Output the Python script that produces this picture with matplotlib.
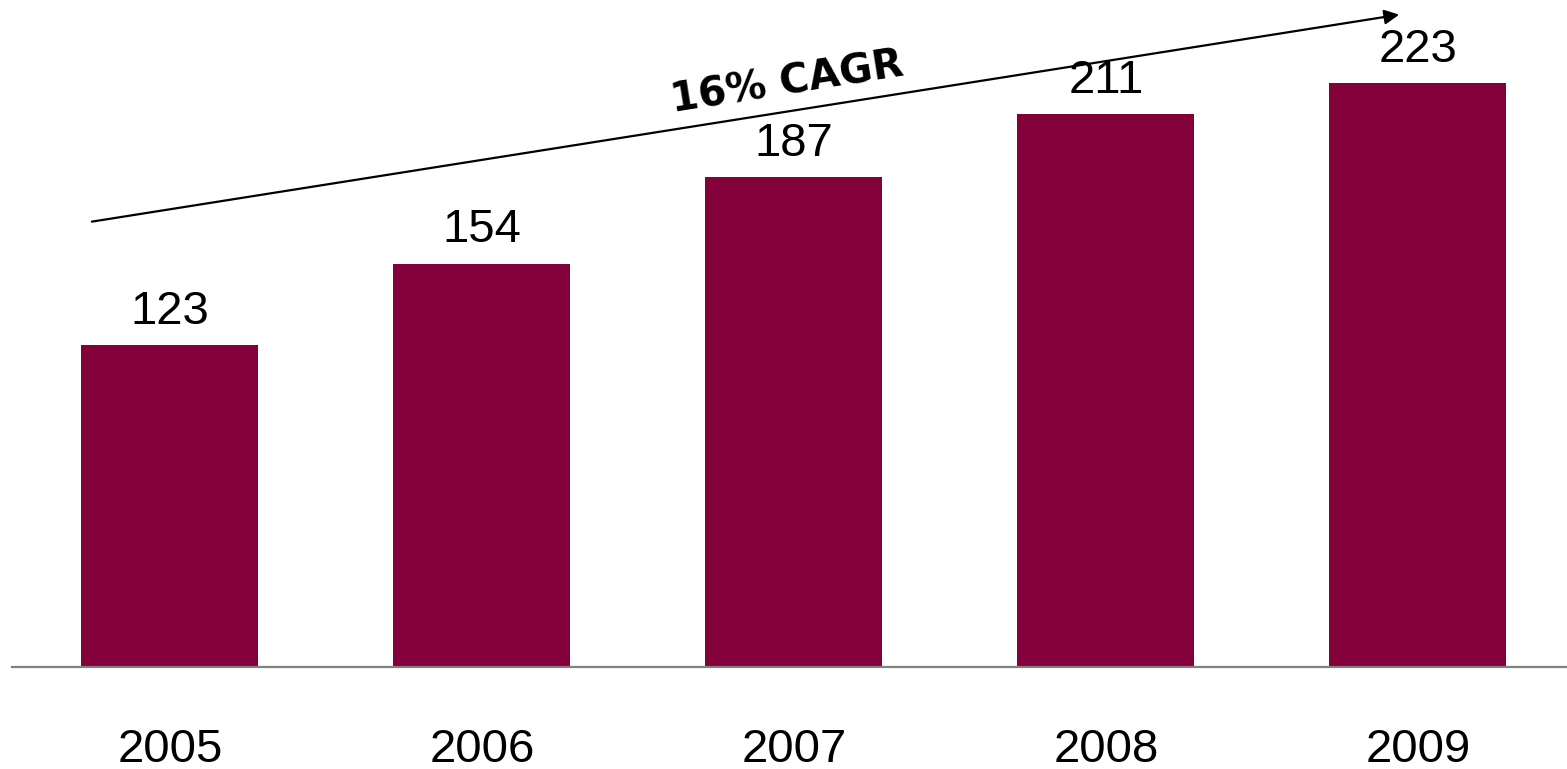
import matplotlib.pyplot as plt

years = ["2005", "2006", "2007", "2008", "2009"]
values = [123, 154, 187, 211, 223]
cagr_label = "16% CAGR"

fig = plt.figure(figsize=(15.67, 7.69), dpi=100)
ax = fig.add_axes([12 / 1567, 102 / 769, 1555 / 1567, 667 / 769])

x = range(len(years))
ax.bar(x, values, width=0.567, color="#83003A")

for xi, v in zip(x, values):
    ax.annotate(str(v), (xi, v), xytext=(0, 8), textcoords="offset points",
                ha="center", va="bottom", fontsize=34, family="Liberation Sans")

# growth arrow
ax.annotate("", xy=(3.94, 249), xytext=(-0.25, 170),
            arrowprops=dict(arrowstyle="-|>", color="black", lw=1.6,
                            mutation_scale=22, shrinkA=0, shrinkB=0))
ax.text(1.98, 223, cagr_label, rotation=9, ha="center", va="center",
        fontsize=29, fontweight="bold", family="DejaVu Sans",
        rotation_mode="anchor")

ax.set_xlim(-0.506, 4.478)
ax.set_ylim(0, 254.6)
ax.set_xticks(list(x))
ax.set_xticklabels(years, fontsize=34, family="Liberation Sans")
ax.tick_params(axis="x", length=0, pad=44)
ax.set_yticks([])
for s in ["top", "right", "left"]:
    ax.spines[s].set_visible(False)
ax.spines["bottom"].set_color("#808080")
ax.spines["bottom"].set_linewidth(1.6)

fig.savefig("out.png", dpi=100)
